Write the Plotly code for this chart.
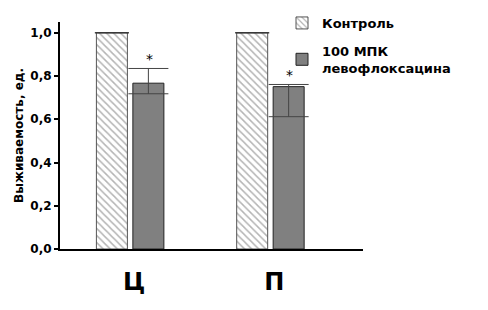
import plotly.graph_objects as go

categories = ["Ц", "П"]
control_values = [1.0, 1.0]
treatment_values = [0.767, 0.751]
treatment_err_plus = [0.068, 0.010]
treatment_err_minus = [0.049, 0.139]
control_err = [0.0, 0.0]
significance = ["*", "*"]
y_ticks = [0.0, 0.2, 0.4, 0.6, 0.8, 1.0]
y_tick_labels = ["0,0", "0,2", "0,4", "0,6", "0,8", "1,0"]

FONT = "DejaVu Sans"

fig = go.Figure()
fig.add_trace(go.Bar(
    x=categories, y=control_values, name="Контроль",
    legendgroup="a",
    marker=dict(color="white", line=dict(color="#555555", width=1),
                pattern=dict(shape="\\", fgcolor="#6a6a6a", bgcolor="white",
                             size=5, solidity=0.3)),
    error_y=dict(type="data", array=control_err, visible=True,
                 color="#333333", thickness=1, width=17),
))
fig.add_trace(go.Bar(
    x=categories, y=treatment_values, name="100 МПК<br>левофлоксацина",
    legendgroup="b",
    marker=dict(color="#808080", line=dict(color="#222222", width=1)),
    error_y=dict(type="data", symmetric=False, array=treatment_err_plus,
                 arrayminus=treatment_err_minus, visible=True,
                 color="#444444", thickness=1, width=20),
))

for cat, v, ep, s in zip(categories, treatment_values, treatment_err_plus, significance):
    fig.add_annotation(x=cat, y=v + ep, text=s, showarrow=False, xref="x", yref="y",
                       xshift=19, yshift=9,
                       font=dict(family=FONT, size=14, color="black"))

fig.update_layout(
    width=488, height=310,
    margin=dict(l=52, r=133, t=14, b=69, autoexpand=False),
    paper_bgcolor="white", plot_bgcolor="white",
    barmode="group", bargap=0.48, bargroupgap=0.15,
    showlegend=True,
    legend=dict(xref="container", yref="container", x=0.5615, y=1.0,
                xanchor="left", yanchor="top",
                font=dict(family=FONT, size=13, color="black", weight="bold"),
                bgcolor="rgba(0,0,0,0)", tracegroupgap=8,
                itemwidth=30),
    font=dict(family=FONT, color="black"),
)
fig.update_xaxes(
    range=[-0.5, 1.66], showline=True, linecolor="black", linewidth=1.5,
    ticks="", showgrid=False, zeroline=False, automargin=False,
    tickfont=dict(family=FONT, size=24, weight="bold", color="black"),
    ticklabelstandoff=10, ticklabelshift=4,
)
fig.update_yaxes(
    range=[0, 1.05], showline=True, linecolor="black", linewidth=2,
    ticks="outside", ticklen=4, tickwidth=1.5, tickcolor="black",
    tickvals=y_ticks, ticktext=y_tick_labels, showgrid=False, zeroline=False,
    automargin=False,
    tickfont=dict(family=FONT, size=12, weight="bold", color="black"),
    title=dict(text="Выживаемость, ед.", standoff=4,
               font=dict(family=FONT, size=12, weight="bold", color="black")),
)

fig.write_html("out.html")
